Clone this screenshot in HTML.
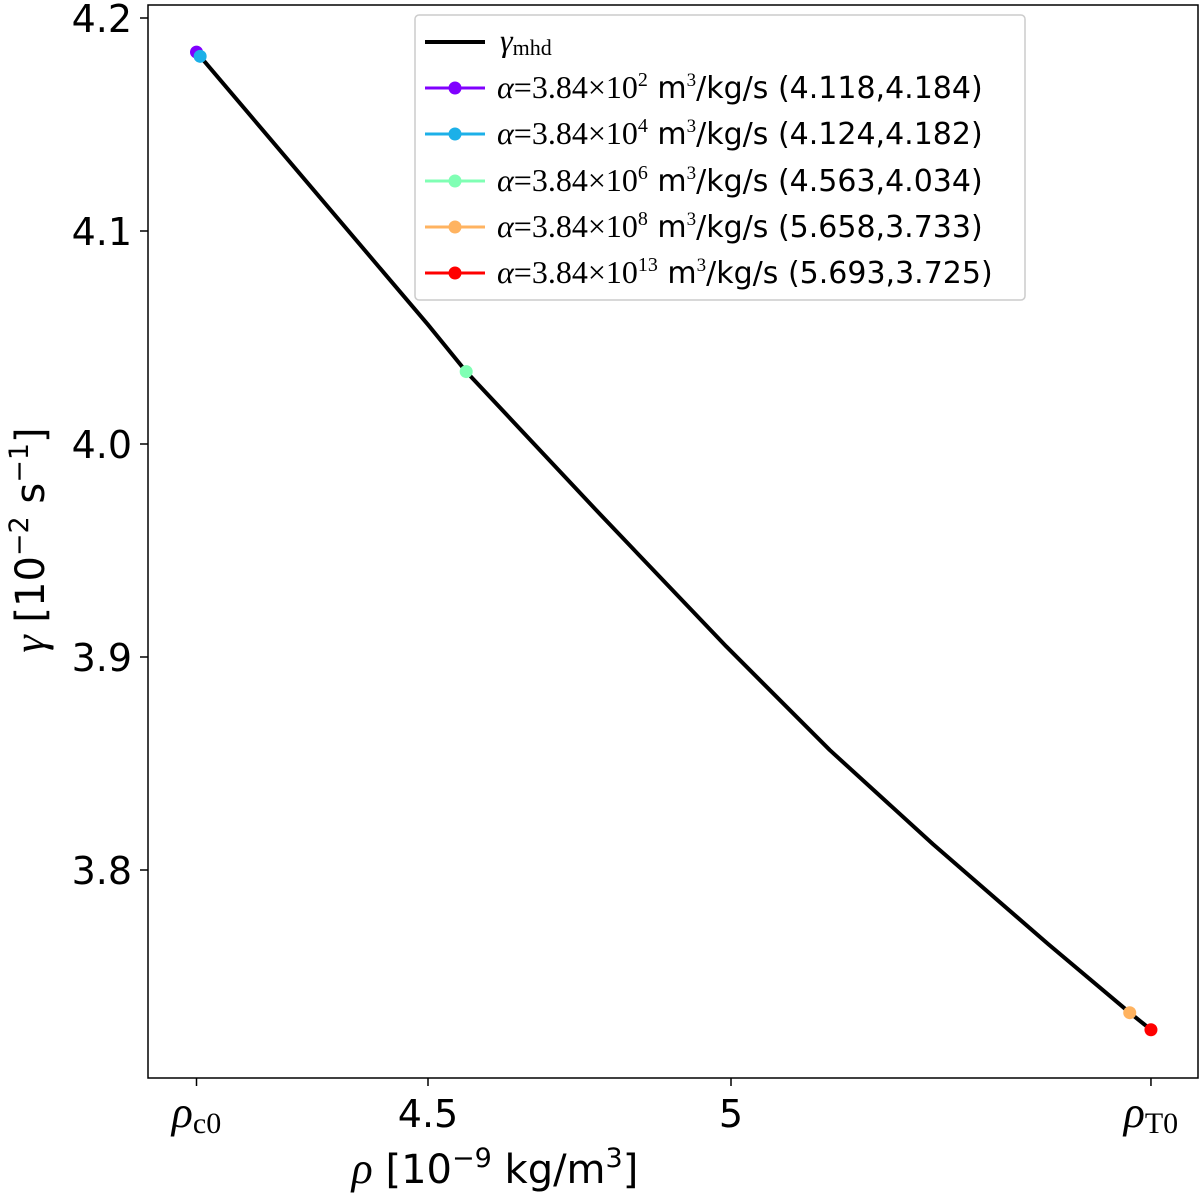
<!DOCTYPE html>
<html><head><meta charset="utf-8"><style>
body{margin:0;background:#fff;}
svg text{font-family:"DejaVu Sans","Liberation Sans",sans-serif;}
.serif{font-family:"Liberation Serif","DejaVu Serif",serif;font-style:italic;}
</style></head><body>
<svg id="chart" width="1200" height="1195" xmlns="http://www.w3.org/2000/svg">
<rect x="148" y="5" width="1050" height="1073" fill="none" stroke="#000" stroke-width="1.5"/>
<g id="ticks"></g>
<path id="curve" fill="none" stroke="#000" stroke-width="4" stroke-linejoin="round"/>
<g id="points"></g>
<text x="495" y="1183" font-size="40" text-anchor="middle"><tspan class="serif" font-size="44">ρ</tspan> [10<tspan dy="-16" font-size="27">−9</tspan><tspan dy="16"> kg/m</tspan><tspan dy="-16" font-size="27">3</tspan><tspan dy="16">]</tspan></text>
<text transform="translate(44,540) rotate(-90)" font-size="40" text-anchor="middle"><tspan class="serif" font-size="44">γ</tspan> [10<tspan dy="-16" font-size="27">−2</tspan><tspan dy="16"> s</tspan><tspan dy="-16" font-size="27">−1</tspan><tspan dy="16">]</tspan></text>
<g>
<rect x="415" y="15" width="610" height="285" rx="4" fill="#fff" stroke="#ccc" stroke-width="1.5"/>
<g id="legend-entries"></g>
</g>
</svg>
<script>
const curveX=[4.118,4.5,4.563,4.784,4.992,5.163,5.333,5.523,5.658,5.693];
const curveY=[4.184,4.056,4.034,3.967,3.905,3.8563,3.8122,3.7653,3.733,3.725];
const pointX=[4.118,4.124,4.563,5.658,5.693];
const pointY=[4.184,4.182,4.034,3.733,3.725];
const pointColors=["#8000ff","#1cb0e8","#80ffb4","#ffb360","#ff0000"];
const exps=["2","4","6","8","13"];
const xTicks=[4.118,4.5,5,5.693];
const xTickLabels=["ρc0","4.5","5","ρT0"];
const yTicks=[4.2,4.1,4.0,3.9,3.8];
const yTickLabels=["4.2","4.1","4.0","3.9","3.8"];
const NS="http://www.w3.org/2000/svg";
const sx=v=>428+(v-4.5)*606;
const sy=v=>18+(4.2-v)*2130;
function mk(t,a,p){const e=document.createElementNS(NS,t);for(const k in a)e.setAttribute(k,a[k]);p.appendChild(e);return e;}
const tg=document.getElementById('ticks');
xTicks.forEach((v,i)=>{
 const l=mk('line',{x1:sx(v),x2:sx(v),y1:1078,y2:1086,stroke:'#000','stroke-width':1.5},tg);
 
 
 const lab=xTickLabels[i];
 const t=mk('text',{x:sx(v),y:1127,'font-size':38,'text-anchor':'middle'},tg);
 
 
 if(lab.startsWith('ρ')){t.innerHTML='<tspan class="serif" font-size="44">ρ</tspan><tspan font-family="Liberation Serif" font-size="30" dy="6">'+lab.slice(1)+'</tspan>';}
 else t.textContent=lab;
});
yTicks.forEach((v,i)=>{
 const l=mk('line',{x1:140,x2:148,y1:sy(v),y2:sy(v),stroke:'#000','stroke-width':1.5},tg);
 
 
 const t=mk('text',{x:132,y:sy(v)+14,'font-size':38,'text-anchor':'end'},tg);
 
 
 t.textContent=yTickLabels[i];
});
document.getElementById('curve').setAttribute('d',curveX.map((v,i)=>(i?'L':'M')+sx(v)+','+sy(curveY[i])).join(''));
const pg=document.getElementById('points');
pointX.forEach((v,i)=>{
 const c=mk('circle',{cx:sx(v),cy:sy(pointY[i]),r:6.5,fill:pointColors[i]},pg);
 
 
});
const lg=document.getElementById('legend-entries');
const ly=[42,88,134,181,227,273];
let l0=mk('line',{x1:425,x2:485,y1:ly[0],y2:ly[0],stroke:'#000','stroke-width':4},lg);


let t0=mk('text',{x:500,y:ly[0]+9,'font-size':32},lg);


t0.innerHTML='<tspan class="serif">γ</tspan><tspan font-family="Liberation Serif" font-size="22" dy="4">mhd</tspan>';
pointX.forEach((v,i)=>{
 const y=ly[i+1];
 const l=mk('line',{x1:425,x2:485,y1:y,y2:y,stroke:pointColors[i],'stroke-width':3},lg);
 
 
 const c=mk('circle',{cx:455,cy:y,r:6.5,fill:pointColors[i]},lg);
 
 
 const t=mk('text',{x:497,y:y+10,'font-size':30},lg);
 
 
 t.innerHTML='<tspan class="serif" font-size="32">α</tspan><tspan font-family="Liberation Serif" font-size="32">=3.84×10</tspan><tspan font-family="Liberation Serif" font-size="20" dy="-12">'+exps[i]+'</tspan><tspan dy="12"> m</tspan><tspan font-size="19" dy="-12" font-family="Liberation Serif">3</tspan><tspan dy="12">/kg/s ('+v.toFixed(3)+','+pointY[i].toFixed(3)+')</tspan>';
});
</script>
</body></html>
